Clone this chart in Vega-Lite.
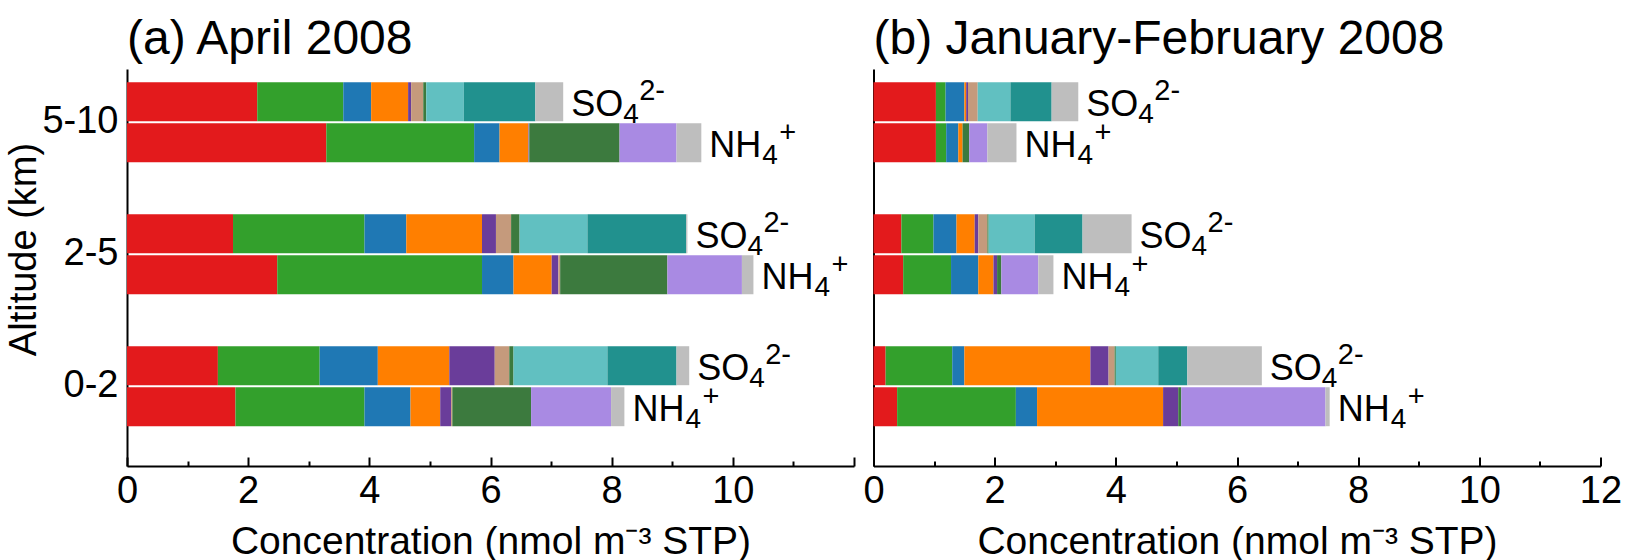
{
  "$schema": "https://vega.github.io/schema/vega-lite/v6.json",
  "padding": {"left": 5, "top": 16, "right": 5, "bottom": 0},
  "config": {
    "font": "Liberation Sans",
    "view": {"stroke": null},
    "axis": {"labelColor": "black", "titleColor": "black", "domainColor": "black", "tickColor": "black", "domainWidth": 2, "tickWidth": 2, "grid": false}
  },
  "datasets": {
    "conc": [
      {"p": "a", "alt": "5-10", "sp": "SO4", "A": 2.15, "B": 1.42, "C": 0.46, "D": 0.61, "E": 0.05, "F": 0.20, "G": 0.05, "H": 0.62, "I": 1.18, "J": 0, "K": 0.46},
      {"p": "a", "alt": "5-10", "sp": "NH4", "A": 3.29, "B": 2.44, "C": 0.42, "D": 0.47, "E": 0.01, "F": 0.01, "G": 1.49, "H": 0, "I": 0, "J": 0.94, "K": 0.41},
      {"p": "a", "alt": "2-5", "sp": "SO4", "A": 1.75, "B": 2.17, "C": 0.69, "D": 1.25, "E": 0.23, "F": 0.25, "G": 0.14, "H": 1.12, "I": 1.63, "J": 0, "K": 0.02},
      {"p": "a", "alt": "2-5", "sp": "NH4", "A": 2.48, "B": 3.38, "C": 0.52, "D": 0.63, "E": 0.11, "F": 0.03, "G": 1.77, "H": 0, "I": 0, "J": 1.23, "K": 0.19},
      {"p": "a", "alt": "0-2", "sp": "SO4", "A": 1.50, "B": 1.68, "C": 0.96, "D": 1.18, "E": 0.75, "F": 0.24, "G": 0.07, "H": 1.55, "I": 1.14, "J": 0, "K": 0.21},
      {"p": "a", "alt": "0-2", "sp": "NH4", "A": 1.79, "B": 2.13, "C": 0.76, "D": 0.49, "E": 0.18, "F": 0.02, "G": 1.30, "H": 0, "I": 0, "J": 1.32, "K": 0.22},
      {"p": "b", "alt": "5-10", "sp": "SO4", "A": 1.03, "B": 0.16, "C": 0.31, "D": 0.03, "E": 0.03, "F": 0.16, "G": 0, "H": 0.54, "I": 0.68, "J": 0, "K": 0.44},
      {"p": "b", "alt": "5-10", "sp": "NH4", "A": 1.03, "B": 0.17, "C": 0.20, "D": 0.07, "E": 0, "F": 0, "G": 0.11, "H": 0, "I": 0, "J": 0.30, "K": 0.48},
      {"p": "b", "alt": "2-5", "sp": "SO4", "A": 0.46, "B": 0.53, "C": 0.38, "D": 0.30, "E": 0.06, "F": 0.15, "G": 0.02, "H": 0.76, "I": 0.79, "J": 0, "K": 0.81},
      {"p": "b", "alt": "2-5", "sp": "NH4", "A": 0.49, "B": 0.79, "C": 0.45, "D": 0.25, "E": 0.06, "F": 0, "G": 0.07, "H": 0, "I": 0, "J": 0.61, "K": 0.25},
      {"p": "b", "alt": "0-2", "sp": "SO4", "A": 0.20, "B": 1.10, "C": 0.20, "D": 2.08, "E": 0.30, "F": 0.10, "G": 0.02, "H": 0.70, "I": 0.48, "J": 0, "K": 1.23},
      {"p": "b", "alt": "0-2", "sp": "NH4", "A": 0.39, "B": 1.96, "C": 0.35, "D": 2.08, "E": 0.25, "F": 0, "G": 0.05, "H": 0, "I": 0, "J": 2.38, "K": 0.07}
    ]
  },
  "spacing": 19.5,
  "bounds": "flush",
  "hconcat": [
    {
      "width": 727,
      "height": 397,
      "title": {"text": "(a) April 2008", "anchor": "start", "frame": "group", "fontSize": 48, "fontWeight": "normal", "offset": -33, "baseline": "alphabetic", "color": "black"},
      "data": {"name": "conc"},
      "transform": [
        {"filter": "datum.p === 'a'"},
        {"fold": ["A", "B", "C", "D", "E", "F", "G", "H", "I", "J", "K"], "as": ["src", "v"]}
      ],
      "layer": [
        {
          "mark": {"type": "bar"},
          "encoding": {
            "x": {"field": "v", "type": "quantitative", "stack": "zero", "title": "Concentration (nmol m⁻³ STP)",
              "scale": {"domain": [0, 12], "nice": false},
              "axis": {"values": [0,0.5,1,1.5,2,2.5,3,3.5,4,4.5,5,5.5,6,6.5,7,7.5,8,8.5,9,9.5,10,10.5,11,11.5,12],
                "tickSize": {"condition": {"test": "datum.value % 2 === 0", "value": -9}, "value": -5},
                "labelExpr": "datum.value % 2 === 0 && datum.value < 12 ? format(datum.value, 'd') : ''",
                "labelFlush": false, "labelOverlap": false, "labelFontSize": 38, "labelPadding": 15,
                "titleFontSize": 39, "titleFontWeight": "normal", "titlePadding": 8}},
            "y": {"field": "alt", "type": "nominal", "sort": ["5-10", "2-5", "0-2"], "title": "Altitude (km)",
              "scale": {"paddingInner": 0.394, "paddingOuter": 0.201, "align": 0.25},
              "axis": {"ticks": false, "labelFontSize": 38, "labelPadding": 9, "titleFontSize": 38, "titleFontWeight": "normal", "titleX": -84, "titleY": 180, "titleBaseline": "bottom"}},
            "yOffset": {"field": "sp", "type": "nominal", "sort": ["SO4", "NH4"], "scale": {"paddingInner": 0.05, "paddingOuter": 0}},
            "color": {"field": "src", "type": "nominal", "legend": null,
              "scale": {"domain": ["A", "B", "C", "D", "E", "F", "G", "H", "I", "J", "K"],
                "range": ["#e31a1c", "#33a02c", "#1f78b4", "#ff7f00", "#6a3d9a", "#c59a7c", "#3c7a3e", "#61c0c1", "#21918e", "#a98ae3", "#bebebe"]}}
          }
        },
        {
          "transform": [{"filter": "datum.sp === 'SO4'"}],
          "mark": {"type": "text", "text": "SO", "align": "left", "baseline": "alphabetic", "dx": 8, "dy": 14, "fontSize": 36, "color": "black"},
          "encoding": {
            "x": {"aggregate": "sum", "field": "v", "type": "quantitative", "title": "Concentration (nmol m⁻³ STP)"},
            "y": {"field": "alt", "type": "nominal", "sort": ["5-10", "2-5", "0-2"], "title": "Altitude (km)"},
            "yOffset": {"field": "sp", "type": "nominal", "sort": ["SO4", "NH4"]}
          }
        },
        {
          "transform": [{"filter": "datum.sp === 'SO4'"}],
          "mark": {"type": "text", "text": "4", "align": "left", "baseline": "alphabetic", "dx": 60, "dy": 21, "fontSize": 28, "color": "black"},
          "encoding": {
            "x": {"aggregate": "sum", "field": "v", "type": "quantitative", "title": "Concentration (nmol m⁻³ STP)"},
            "y": {"field": "alt", "type": "nominal", "sort": ["5-10", "2-5", "0-2"], "title": "Altitude (km)"},
            "yOffset": {"field": "sp", "type": "nominal", "sort": ["SO4", "NH4"]}
          }
        },
        {
          "transform": [{"filter": "datum.sp === 'SO4'"}],
          "mark": {"type": "text", "text": "2-", "align": "left", "baseline": "alphabetic", "dx": 76, "dy": -2, "fontSize": 29, "color": "black"},
          "encoding": {
            "x": {"aggregate": "sum", "field": "v", "type": "quantitative", "title": "Concentration (nmol m⁻³ STP)"},
            "y": {"field": "alt", "type": "nominal", "sort": ["5-10", "2-5", "0-2"], "title": "Altitude (km)"},
            "yOffset": {"field": "sp", "type": "nominal", "sort": ["SO4", "NH4"]}
          }
        },
        {
          "transform": [{"filter": "datum.sp === 'NH4'"}],
          "mark": {"type": "text", "text": "NH", "align": "left", "baseline": "alphabetic", "dx": 8, "dy": 14, "fontSize": 36, "color": "black"},
          "encoding": {
            "x": {"aggregate": "sum", "field": "v", "type": "quantitative", "title": "Concentration (nmol m⁻³ STP)"},
            "y": {"field": "alt", "type": "nominal", "sort": ["5-10", "2-5", "0-2"], "title": "Altitude (km)"},
            "yOffset": {"field": "sp", "type": "nominal", "sort": ["SO4", "NH4"]}
          }
        },
        {
          "transform": [{"filter": "datum.sp === 'NH4'"}],
          "mark": {"type": "text", "text": "4", "align": "left", "baseline": "alphabetic", "dx": 61, "dy": 21, "fontSize": 28, "color": "black"},
          "encoding": {
            "x": {"aggregate": "sum", "field": "v", "type": "quantitative", "title": "Concentration (nmol m⁻³ STP)"},
            "y": {"field": "alt", "type": "nominal", "sort": ["5-10", "2-5", "0-2"], "title": "Altitude (km)"},
            "yOffset": {"field": "sp", "type": "nominal", "sort": ["SO4", "NH4"]}
          }
        },
        {
          "transform": [{"filter": "datum.sp === 'NH4'"}],
          "mark": {"type": "text", "text": "+", "align": "left", "baseline": "alphabetic", "dx": 78, "dy": -1, "fontSize": 29, "color": "black"},
          "encoding": {
            "x": {"aggregate": "sum", "field": "v", "type": "quantitative", "title": "Concentration (nmol m⁻³ STP)"},
            "y": {"field": "alt", "type": "nominal", "sort": ["5-10", "2-5", "0-2"], "title": "Altitude (km)"},
            "yOffset": {"field": "sp", "type": "nominal", "sort": ["SO4", "NH4"]}
          }
        }
      ]
    },
    {
      "width": 727,
      "height": 397,
      "title": {"text": "(b) January-February 2008", "anchor": "start", "frame": "group", "fontSize": 48, "fontWeight": "normal", "offset": -33, "baseline": "alphabetic", "color": "black"},
      "data": {"name": "conc"},
      "transform": [
        {"filter": "datum.p === 'b'"},
        {"fold": ["A", "B", "C", "D", "E", "F", "G", "H", "I", "J", "K"], "as": ["src", "v"]}
      ],
      "layer": [
        {
          "mark": {"type": "bar"},
          "encoding": {
            "x": {"field": "v", "type": "quantitative", "stack": "zero", "title": "Concentration (nmol m⁻³ STP)",
              "scale": {"domain": [0, 12], "nice": false},
              "axis": {"values": [0,0.5,1,1.5,2,2.5,3,3.5,4,4.5,5,5.5,6,6.5,7,7.5,8,8.5,9,9.5,10,10.5,11,11.5,12],
                "tickSize": {"condition": {"test": "datum.value % 2 === 0", "value": -9}, "value": -5},
                "labelExpr": "datum.value % 2 === 0 ? format(datum.value, 'd') : ''",
                "labelFlush": false, "labelOverlap": false, "labelFontSize": 38, "labelPadding": 15,
                "titleFontSize": 39, "titleFontWeight": "normal", "titlePadding": 8}},
            "y": {"field": "alt", "type": "nominal", "sort": ["5-10", "2-5", "0-2"], "title": null,
              "scale": {"paddingInner": 0.394, "paddingOuter": 0.201, "align": 0.25},
              "axis": {"ticks": false, "labels": false, "title": null}},
            "yOffset": {"field": "sp", "type": "nominal", "sort": ["SO4", "NH4"], "scale": {"paddingInner": 0.05, "paddingOuter": 0}},
            "color": {"field": "src", "type": "nominal", "legend": null,
              "scale": {"domain": ["A", "B", "C", "D", "E", "F", "G", "H", "I", "J", "K"],
                "range": ["#e31a1c", "#33a02c", "#1f78b4", "#ff7f00", "#6a3d9a", "#c59a7c", "#3c7a3e", "#61c0c1", "#21918e", "#a98ae3", "#bebebe"]}}
          }
        },
        {
          "transform": [{"filter": "datum.sp === 'SO4'"}],
          "mark": {"type": "text", "text": "SO", "align": "left", "baseline": "alphabetic", "dx": 8, "dy": 14, "fontSize": 36, "color": "black"},
          "encoding": {
            "x": {"aggregate": "sum", "field": "v", "type": "quantitative", "title": "Concentration (nmol m⁻³ STP)"},
            "y": {"field": "alt", "type": "nominal", "sort": ["5-10", "2-5", "0-2"], "title": null},
            "yOffset": {"field": "sp", "type": "nominal", "sort": ["SO4", "NH4"]}
          }
        },
        {
          "transform": [{"filter": "datum.sp === 'SO4'"}],
          "mark": {"type": "text", "text": "4", "align": "left", "baseline": "alphabetic", "dx": 60, "dy": 21, "fontSize": 28, "color": "black"},
          "encoding": {
            "x": {"aggregate": "sum", "field": "v", "type": "quantitative", "title": "Concentration (nmol m⁻³ STP)"},
            "y": {"field": "alt", "type": "nominal", "sort": ["5-10", "2-5", "0-2"], "title": null},
            "yOffset": {"field": "sp", "type": "nominal", "sort": ["SO4", "NH4"]}
          }
        },
        {
          "transform": [{"filter": "datum.sp === 'SO4'"}],
          "mark": {"type": "text", "text": "2-", "align": "left", "baseline": "alphabetic", "dx": 76, "dy": -2, "fontSize": 29, "color": "black"},
          "encoding": {
            "x": {"aggregate": "sum", "field": "v", "type": "quantitative", "title": "Concentration (nmol m⁻³ STP)"},
            "y": {"field": "alt", "type": "nominal", "sort": ["5-10", "2-5", "0-2"], "title": null},
            "yOffset": {"field": "sp", "type": "nominal", "sort": ["SO4", "NH4"]}
          }
        },
        {
          "transform": [{"filter": "datum.sp === 'NH4'"}],
          "mark": {"type": "text", "text": "NH", "align": "left", "baseline": "alphabetic", "dx": 8, "dy": 14, "fontSize": 36, "color": "black"},
          "encoding": {
            "x": {"aggregate": "sum", "field": "v", "type": "quantitative", "title": "Concentration (nmol m⁻³ STP)"},
            "y": {"field": "alt", "type": "nominal", "sort": ["5-10", "2-5", "0-2"], "title": null},
            "yOffset": {"field": "sp", "type": "nominal", "sort": ["SO4", "NH4"]}
          }
        },
        {
          "transform": [{"filter": "datum.sp === 'NH4'"}],
          "mark": {"type": "text", "text": "4", "align": "left", "baseline": "alphabetic", "dx": 61, "dy": 21, "fontSize": 28, "color": "black"},
          "encoding": {
            "x": {"aggregate": "sum", "field": "v", "type": "quantitative", "title": "Concentration (nmol m⁻³ STP)"},
            "y": {"field": "alt", "type": "nominal", "sort": ["5-10", "2-5", "0-2"], "title": null},
            "yOffset": {"field": "sp", "type": "nominal", "sort": ["SO4", "NH4"]}
          }
        },
        {
          "transform": [{"filter": "datum.sp === 'NH4'"}],
          "mark": {"type": "text", "text": "+", "align": "left", "baseline": "alphabetic", "dx": 78, "dy": -1, "fontSize": 29, "color": "black"},
          "encoding": {
            "x": {"aggregate": "sum", "field": "v", "type": "quantitative", "title": "Concentration (nmol m⁻³ STP)"},
            "y": {"field": "alt", "type": "nominal", "sort": ["5-10", "2-5", "0-2"], "title": null},
            "yOffset": {"field": "sp", "type": "nominal", "sort": ["SO4", "NH4"]}
          }
        }
      ]
    }
  ]
}
